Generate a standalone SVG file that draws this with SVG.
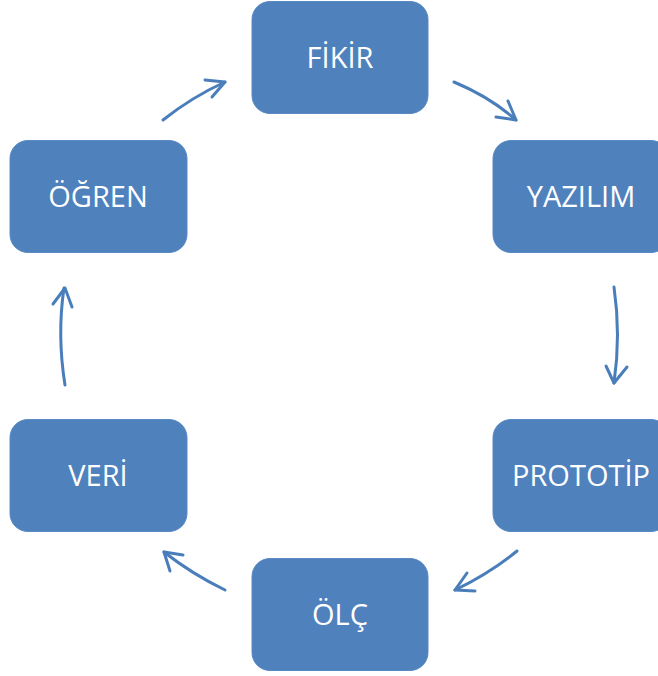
<svg xmlns="http://www.w3.org/2000/svg" width="658" height="676" viewBox="0 0 658 676">
<style>
.box{fill:#4f81bd;stroke:#5a8ac4;stroke-width:1}
.lbl{fill:#ffffff;font-family:"Open Sans","Liberation Sans",sans-serif;font-size:29px;text-anchor:middle;dominant-baseline:central}
.c{fill:none;stroke:#4a7ebb;stroke-width:3;stroke-linecap:round;stroke-linejoin:round}
</style>
<rect width="658" height="676" fill="#ffffff"/>
<g id="fikir"><rect class="box" x="252" y="1.5" width="176" height="112" rx="18"/><text class="lbl" x="340" y="56">FİKİR</text></g>
<g id="yazilim"><rect class="box" x="493" y="140.5" width="176" height="112" rx="18"/><text class="lbl" x="581" y="195">YAZILIM</text></g>
<g id="prototip"><rect class="box" x="493" y="419.5" width="176" height="112" rx="18"/><text class="lbl" x="581" y="474">PROTOTİP</text></g>
<g id="olc"><rect class="box" x="252" y="558.5" width="176" height="112" rx="18"/><text class="lbl" x="340" y="613">ÖLÇ</text></g>
<g id="veri"><rect class="box" x="10" y="419.5" width="177" height="112" rx="18"/><text class="lbl" x="98" y="474">VERİ</text></g>
<g id="ogren"><rect class="box" x="10" y="140.5" width="177" height="112" rx="18"/><text class="lbl" x="98" y="195">ÖĞREN</text></g>
<g id="connectors">
<path class="c" d="M454,82 Q490,97 516,120"/><polyline class="c" points="508,101 516,120 496,117"/>
<path class="c" d="M614,287 Q621,335 614,383"/><polyline class="c" points="606,366 614,383 627,367"/>
<path class="c" d="M517,551 Q490,573 455,590"/><polyline class="c" points="467,573 455,590 475,591"/>
<path class="c" d="M225,590 Q192,574 164,552"/><polyline class="c" points="183,555 164,552 170,571"/>
<path class="c" d="M65,385 Q57,335 64,288"/><polyline class="c" points="53,304 65,288 72,307"/>
<path class="c" d="M163,120 Q192,97 225,82"/><polyline class="c" points="205,80 225,82 212,97"/>
</g>
</svg>
